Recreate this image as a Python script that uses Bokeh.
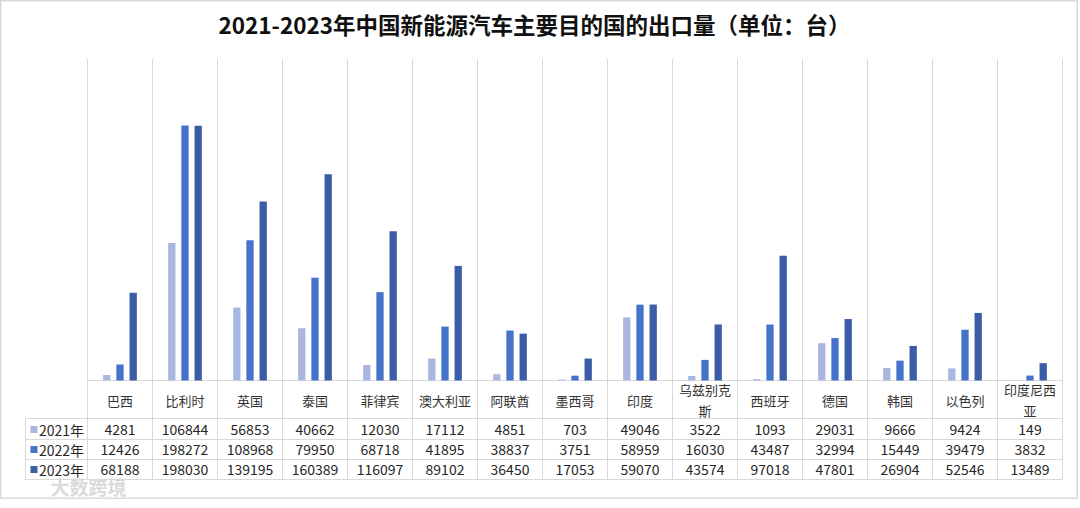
from bokeh.plotting import figure
from bokeh.models import Range1d
from bokeh.core.properties import value
from bokeh.embed import file_html
from bokeh.resources import INLINE
import numpy as np

# ---------------- data ----------------
title_text = "2021-2023年中国新能源汽车主要目的国的出口量（单位：台）"
categories = ["巴西", "比利时", "英国", "泰国", "菲律宾", "澳大利亚", "阿联酋", "墨西哥",
              "印度", "乌兹别克斯", "西班牙", "德国", "韩国", "以色列", "印度尼西亚"]
series_names = ["2021年", "2022年", "2023年"]
y2021 = [4281, 106844, 56853, 40662, 12030, 17112, 4851, 703, 49046, 3522, 1093, 29031, 9666, 9424, 149]
y2022 = [12426, 198272, 108968, 79950, 68718, 41895, 38837, 3751, 58959, 16030, 43487, 32994, 15449, 39479, 3832]
y2023 = [68188, 198030, 139195, 160389, 116097, 89102, 36450, 17053, 59070, 43574, 97018, 47801, 26904, 52546, 13489]
y_max = 250000
watermark = "大数跨境"

# ---------------- styles ----------------
colors = ["#A9B6E0", "#4673CA", "#3B5CA6"]
grid_color = "#D9D9D9"
font = value("Noto Sans CJK SC")

W, H = 1078, 499
OX, OY = 0, 0
BASE = 380                          # screen y of bar baseline
TOP = 58.5                          # screen y of y_max
X0 = 87                             # screen x of first category boundary
CW = 65                             # px per category
S = y_max / (BASE - TOP)            # data units per px


def xd(sx):
    return (sx - X0) / CW


def yd(sy):
    return (BASE - sy) * S


p = figure(width=W, height=H, output_backend="svg", toolbar_location=None,
           x_range=Range1d(xd(OX), xd(OX + W)), y_range=Range1d(yd(OY + H), yd(OY)),
           x_axis_location=None, y_axis_location=None, min_border=0,
           background_fill_color="white", border_fill_color="white")
p.grid.visible = False
p.outline_line_color = grid_color
p.outline_line_width = 2

n = len(categories)
idx = np.arange(n)

# vertical category lines (plot area + table)
p.segment(x0=np.arange(n + 1), x1=np.arange(n + 1), y0=yd(TOP), y1=yd(479),
          line_color=grid_color, line_width=1)
# baseline
p.segment(x0=[0], x1=[n], y0=[0], y1=[0], line_color=grid_color, line_width=1)
# table horizontal lines
row_lines = [418, 439, 459, 479]
p.segment(x0=[xd(25)] * 4, x1=[n] * 4, y0=[yd(v) for v in row_lines], y1=[yd(v) for v in row_lines],
          line_color=grid_color, line_width=1)
# left border of legend column
p.segment(x0=[xd(25)], x1=[xd(25)], y0=[yd(418)], y1=[yd(479)], line_color=grid_color, line_width=1)

# bars
bw = 7.3 / CW
off = 13.2 / CW
for k, (vals, c) in enumerate(zip([y2021, y2022, y2023], colors)):
    p.vbar(x=idx + 0.5 + (k - 1) * off, top=vals, bottom=0, width=bw,
           fill_color=c, line_color=None)

# category labels (header row)
labels = [c if len(c) <= 4 else c[:4] + "\n" + c[4:] for c in categories]
p.text(x=idx + 0.5, y=[yd(399.5)] * n, text=labels, text_align="center", text_baseline="middle",
       text_font=font, text_font_size="13px", text_color="#333333", text_line_height=1.15)

# table rows
row_centers = [429, 449, 469]
for k, vals in enumerate([y2021, y2022, y2023]):
    p.text(x=idx + 0.5, y=[yd(row_centers[k])] * n, text=[str(v) for v in vals],
           text_align="center", text_baseline="middle", text_font=font,
           text_font_size="14px", text_color="#262626")
    # legend key
    p.scatter(x=[xd(33.5)], y=[yd(row_centers[k])], marker="square", size=7,
              fill_color=colors[k], line_color=None)
    p.text(x=[xd(38.5)], y=[yd(row_centers[k])], text=[series_names[k]], text_align="left",
           text_baseline="middle", text_font=font, text_font_size="14px", text_color="#262626")

# title
p.text(x=[xd(534)], y=[yd(23)], text=[title_text], text_align="center", text_baseline="middle",
       text_font=font, text_font_size="22.5px", text_font_style="bold", text_color="#111111")

# watermark
p.text(x=[xd(50)], y=[yd(486)], text=[watermark], text_align="left", text_baseline="middle",
       text_font=font, text_font_size="19px", text_font_style="bold", text_color="#DADADA")

open("out.html", "w").write(file_html(p, INLINE))
